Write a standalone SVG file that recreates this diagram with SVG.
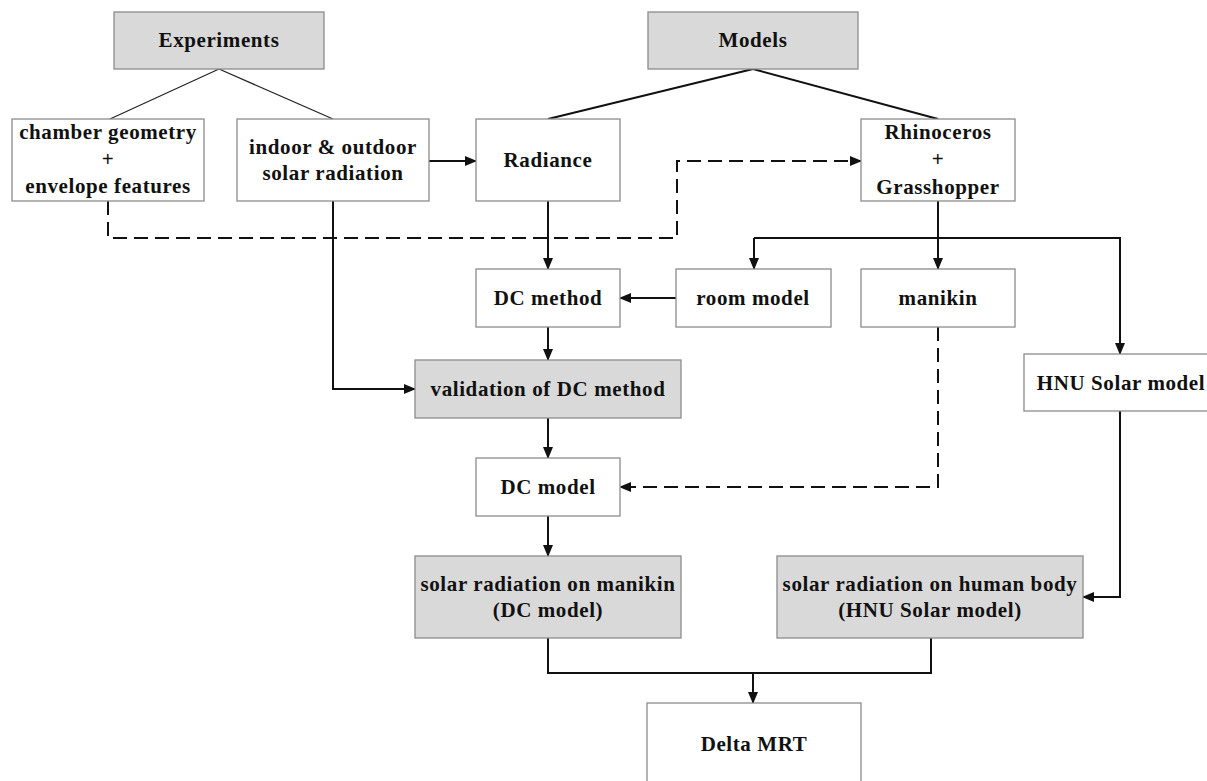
<svg xmlns="http://www.w3.org/2000/svg" width="1207" height="781" viewBox="0 0 1207 781">
<defs>
<style>
.box{fill:#ffffff;stroke:#8c8c8c;stroke-width:1.3}
.gbox{fill:#d9d9d9;stroke:#8c8c8c;stroke-width:1.3}
.t{font-family:"Liberation Serif","Times New Roman",serif;font-weight:bold;font-size:21px;letter-spacing:0.6px;fill:#111;text-anchor:middle}
.c{fill:none;stroke:#111;stroke-width:2}
.thin{fill:none;stroke:#222;stroke-width:1.2}
.d{fill:none;stroke:#111;stroke-width:2;stroke-dasharray:14 7}
</style>
<marker id="ah" markerUnits="userSpaceOnUse" markerWidth="12" markerHeight="12" viewBox="0 0 12 12" refX="11" refY="6" orient="auto">
<path d="M0,1 L12,6 L0,11 Z" fill="#111"/>
</marker>
</defs>
<rect width="1207" height="781" fill="#ffffff"/>
<g id="connectors">
<path class="thin" d="M219,69 L110,119"/>
<path class="thin" d="M219,69 L333,119"/>
<path class="c" d="M753,69 L548,119"/>
<path class="c" d="M753,69 L938,119"/>
<path class="c" d="M429,161 H476" marker-end="url(#ah)"/>
<path class="d" d="M108,201 V238 H677 V161 H861" marker-end="url(#ah)"/>
<path class="c" d="M333,201 V389 H415" marker-end="url(#ah)"/>
<path class="c" d="M548,201 V269" marker-end="url(#ah)"/>
<path class="c" d="M938,201 V269" marker-end="url(#ah)"/>
<path class="c" d="M754,238 H1120 V354" marker-end="url(#ah)"/>
<path class="c" d="M754,238 V269" marker-end="url(#ah)"/>
<path class="c" d="M676,298 H620" marker-end="url(#ah)"/>
<path class="c" d="M548,327 V360" marker-end="url(#ah)"/>
<path class="c" d="M548,418 V458" marker-end="url(#ah)"/>
<path class="d" d="M938,327 V487 H620" marker-end="url(#ah)"/>
<path class="c" d="M548,516 V556" marker-end="url(#ah)"/>
<path class="c" d="M1120,411 V597 H1083" marker-end="url(#ah)"/>
<path class="c" d="M548,638 V673 H931 V638"/>
<path class="c" d="M753,673 V703" marker-end="url(#ah)"/>
</g>
<g id="experiments"><rect class="gbox" x="114" y="12" width="210" height="57"/><text class="t" x="219" y="47">Experiments</text></g>
<g id="models"><rect class="gbox" x="648" y="12" width="210" height="57"/><text class="t" x="753" y="47">Models</text></g>
<g id="chamber"><rect class="box" x="12" y="119" width="192" height="82"/><text class="t" x="108" y="139">chamber geometry</text><text class="t" x="108" y="166">+</text><text class="t" x="108" y="193">envelope features</text></g>
<g id="indoor"><rect class="box" x="237" y="119" width="192" height="82"/><text class="t" x="333" y="154">indoor &amp; outdoor</text><text class="t" x="333" y="180">solar radiation</text></g>
<g id="radiance"><rect class="box" x="476" y="119" width="144" height="82"/><text class="t" x="548" y="167">Radiance</text></g>
<g id="rhino"><rect class="box" x="861" y="119" width="154" height="82"/><text class="t" x="938" y="139">Rhinoceros</text><text class="t" x="938" y="166">+</text><text class="t" x="938" y="194">Grasshopper</text></g>
<g id="dcmethod"><rect class="box" x="476" y="269" width="144" height="58"/><text class="t" x="548" y="305">DC method</text></g>
<g id="roommodel"><rect class="box" x="676" y="269" width="155" height="58"/><text class="t" x="753" y="305">room model</text></g>
<g id="manikin"><rect class="box" x="861" y="269" width="154" height="58"/><text class="t" x="938" y="305">manikin</text></g>
<g id="hnu"><rect class="box" x="1024" y="354" width="192" height="57"/><text class="t" x="1121" y="390">HNU Solar model</text></g>
<g id="validation"><rect class="gbox" x="415" y="360" width="266" height="58"/><text class="t" x="548" y="396">validation of DC method</text></g>
<g id="dcmodel"><rect class="box" x="476" y="458" width="144" height="58"/><text class="t" x="548" y="494">DC model</text></g>
<g id="solarmanikin"><rect class="gbox" x="415" y="556" width="266" height="82"/><text class="t" x="548" y="591">solar radiation on manikin</text><text class="t" x="548" y="617">(DC model)</text></g>
<g id="solarhuman"><rect class="gbox" x="777" y="556" width="306" height="82"/><text class="t" x="930" y="591">solar radiation on human body</text><text class="t" x="930" y="617">(HNU Solar model)</text></g>
<g id="deltamrt"><rect class="box" x="647" y="703" width="214" height="90"/><text class="t" x="754" y="751">Delta MRT</text></g>
</svg>
